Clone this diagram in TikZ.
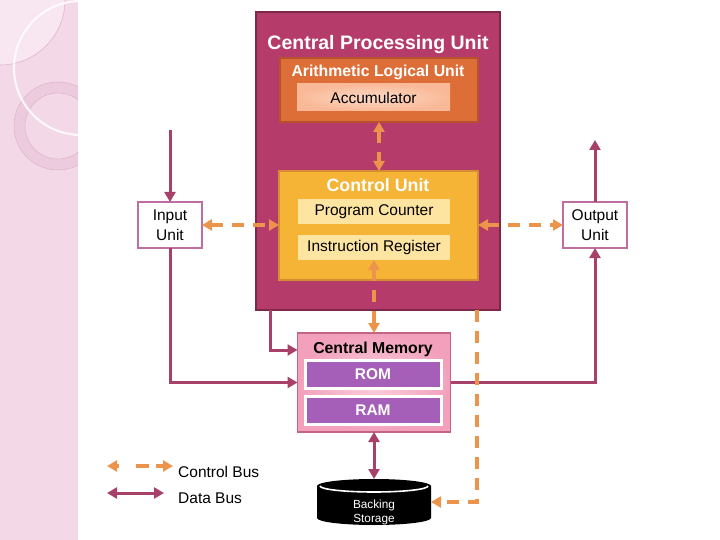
\documentclass[tikz,border=0pt]{standalone}
\usepackage{fontspec}
\setmainfont{Liberation Sans}
\usetikzlibrary{arrows.meta,calc}
\definecolor{stripC}{RGB}{243,217,231}
\definecolor{stripL}{RGB}{248,231,240}
\definecolor{ringC}{RGB}{237,203,222}
\definecolor{ringL}{RGB}{224,182,205}
\definecolor{cpuC}{RGB}{181,60,106}
\definecolor{cpuB}{RGB}{125,40,72}
\definecolor{aluC}{RGB}{222,110,55}
\definecolor{aluB}{RGB}{185,80,45}
\definecolor{accC}{RGB}{249,185,152}
\definecolor{accIn}{RGB}{253,218,198}
\definecolor{cuC}{RGB}{246,180,55}
\definecolor{cuB}{RGB}{214,140,50}
\definecolor{regC}{RGB}{253,228,160}
\definecolor{memC}{RGB}{242,160,188}
\definecolor{memIn}{RGB}{250,208,222}
\definecolor{memB}{RGB}{195,100,130}
\definecolor{romC}{RGB}{165,95,185}
\definecolor{dbusC}{RGB}{168,65,105}
\definecolor{cbusC}{RGB}{236,148,75}
\definecolor{ioB}{RGB}{190,110,160}
\begin{document}
\begin{tikzpicture}[x=1pt,y=-1pt,
  box/.style={rectangle, inner sep=0pt, outer sep=0pt},
  lbl/.style={inner sep=0pt, font=\fontsize{15.5}{19}\selectfont},
  blbl/.style={inner sep=0pt, anchor=base, text=white, font=\fontsize{#1}{#1}\selectfont\bfseries},
  iobox/.style={box, fill=white, draw=ioB, line width=2.5pt, minimum width=64pt, minimum height=46pt, align=center, font=\fontsize{15.5}{20}\selectfont},
  regbox/.style={box, fill=regC, minimum width=152pt, minimum height=25pt, font=\fontsize{15.5}{19}\selectfont},
  membox/.style={box, fill=romC, draw=white, line width=3pt, minimum width=136pt, minimum height=28pt, text=white, font=\fontsize{15.5}{19}\selectfont\bfseries},
  dbus/.style={draw=dbusC, line width=3pt, >={Triangle[length=10pt,width=11pt]}},
  cbus/.style={draw=cbusC, line width=4pt, dash pattern=on 12pt off 9pt, >={Triangle[length=10pt,width=11pt]}}
]
\useasboundingbox (0,0) rectangle (720,540);
% left decorative strip
\fill[stripC] (0,0) rectangle (78,540);
\begin{scope}
  \clip (0,0) rectangle (78,540);
  \fill[stripL] (0,0) circle[radius=65pt];
  \draw[ringL, line width=0.6pt] (0,0) circle[radius=65pt];
  \fill[ringC, even odd rule] (58,126) circle[radius=44pt] (58,126) circle[radius=33pt];
  \draw[ringL, line width=0.6pt] (58,126) circle[radius=44pt] (58,126) circle[radius=33pt];
  \draw[white, opacity=0.85, line width=2pt] (81,68) circle[radius=67pt];
\end{scope}

% CPU
\node[box, fill=cpuC, draw=cpuB, line width=2pt, minimum width=244pt, minimum height=298pt] (cpu) at (378,161) {};
\node[blbl=19.5] (cpulbl) at (378,50) {Central Processing Unit};
% ALU
\node[box, fill=aluC, draw=aluB, line width=2pt, minimum width=198pt, minimum height=64pt] (alu) at (379,90) {};
\node[blbl=15.8] (alulbl) at (378,77) {Arithmetic Logical Unit};
\node[box, inner color=accIn, outer color=accC, minimum width=153pt, minimum height=27pt, font=\fontsize{15.5}{19}\selectfont] (acc) at (373.5,97.5) {Accumulator};
% Control unit
\node[box, fill=cuC, draw=cuB, line width=2pt, minimum width=199pt, minimum height=109pt] (cu) at (378.5,225.5) {};
\node[blbl=17.8] (culbl) at (378,192) {Control Unit};
\node[regbox] (pc) at (374,212) {Program Counter};
\node[regbox] (ir) at (374,247.5) {Instruction Register};

% Input / Output
\node[iobox] (in) at (170,225) {Input\\Unit};
\node[iobox] (out) at (595,225) {Output\\Unit};

% Central memory
\node[box, inner color=memIn, outer color=memC, draw=memB, line width=1.2pt, minimum width=153pt, minimum height=99pt] (mem) at (374,382.5) {};
\node[inner sep=0pt, anchor=base, font=\fontsize{15.8}{19}\selectfont\bfseries] (memlbl) at (373,353) {Central Memory};
\node[membox] (rom) at (373,374) {ROM};
\node[membox] (ram) at (373,410) {RAM};

% Backing storage
\node[box, minimum width=114pt, minimum height=46pt] (store) at (374,502) {};
\fill[black] (317,486) -- (317,518) arc[start angle=180, end angle=360, x radius=57pt, y radius=7pt]
  -- (431,486) arc[start angle=0, end angle=180, x radius=57pt, y radius=7pt] -- cycle;
\draw[white, line width=1.6pt] (320,486) arc[start angle=180, end angle=360, x radius=54pt, y radius=6pt];
\node[inner sep=0pt, text=white, align=center, font=\fontsize{11.8}{14}\selectfont] (storelbl) at (374,512) {Backing\\Storage};

% free ends
\coordinate (inTop) at (170,130);
\coordinate (outTop) at (595,140);

% data bus connectors
\draw[dbus,->] (inTop) -- (in.north);
\draw[dbus,->] (in.south) |- (mem.west);
\draw[dbus,->] ([xshift=-108pt]cpu.south) |- ([yshift=-17pt]mem.north west);
\draw[dbus,->] (mem.east) -| (out.south);
\draw[dbus,->] (out.north) -- (outTop);
\draw[dbus,<->] (mem.south) -- (store.north);

% control bus connectors
\draw[cbus,<->] (alu.south) -- (alu.south |- cu.north);
\draw[cbus,<->] (in.east) -- (in.east -| cu.west);
\draw[cbus,<->] (cu.east |- out.west) -- (out.west);
\draw[cbus,<->] (ir.south) -- (ir.south |- mem.north);
\draw[cbus,->] ([xshift=99pt]cpu.south) |- (store.east);

% legend
\coordinate (lc1) at (107,466);
\coordinate (lc2) at (173,466);
\coordinate (ld1) at (107,493);
\coordinate (ld2) at (164,493);
\draw[cbus,<->, dash pattern=on 3pt off 17pt on 13pt off 7pt on 20pt] (lc1) -- (lc2);
\draw[dbus,<->] (ld1) -- (ld2);
\node[lbl, anchor=base west] (lgc) at (178,477) {Control Bus};
\node[lbl, anchor=base west] (lgd) at (178,503) {Data Bus};
\end{tikzpicture}
\end{document}
